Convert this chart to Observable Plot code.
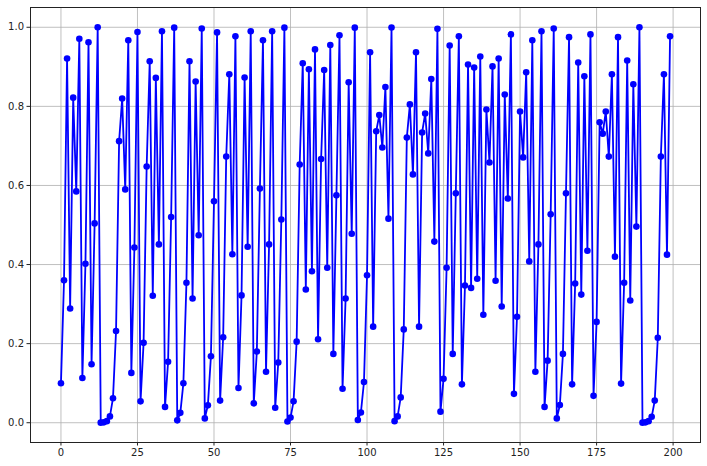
<!DOCTYPE html>
<html>
<head>
<meta charset="utf-8">
<script src="https://cdn.jsdelivr.net/npm/d3@7"></script>
<script src="https://cdn.jsdelivr.net/npm/@observablehq/plot@0.6"></script>
<style>
  html, body { margin: 0; padding: 0; background: white; }
</style>
</head>
<body>
<div id="chart"></div>
<script>
const values = [
  0.1, 0.36, 0.921, 0.289, 0.822, 0.585, 0.971, 0.113, 0.402, 0.962,
  0.148, 0.504, 0.9999, 0.0002, 0.001, 0.004, 0.016, 0.062, 0.232, 0.712,
  0.820, 0.590, 0.967, 0.126, 0.443, 0.988, 0.054, 0.202, 0.648, 0.914,
  0.321, 0.872, 0.451, 0.990, 0.040, 0.154, 0.520, 0.999, 0.006, 0.025,
  0.100, 0.354, 0.914, 0.314, 0.863, 0.474, 0.997, 0.011, 0.044, 0.168,
  0.560, 0.987, 0.056, 0.216, 0.673, 0.881, 0.426, 0.977, 0.088, 0.322,
  0.873, 0.445, 0.990, 0.049, 0.180, 0.592, 0.967, 0.129, 0.451, 0.990,
  0.038, 0.152, 0.514, 0.999, 0.003, 0.013, 0.054, 0.205, 0.653, 0.909,
  0.337, 0.894, 0.383, 0.944, 0.211, 0.667, 0.892, 0.392, 0.955, 0.174,
  0.575, 0.980, 0.086, 0.314, 0.861, 0.478, 0.999, 0.007, 0.026, 0.103,
  0.373, 0.937, 0.243, 0.737, 0.778, 0.696, 0.849, 0.516, 0.9995, 0.004,
  0.016, 0.064, 0.236, 0.721, 0.805, 0.628, 0.937, 0.243, 0.734, 0.782,
  0.681, 0.869, 0.458, 0.996, 0.028, 0.111, 0.392, 0.954, 0.174, 0.580,
  0.977, 0.097, 0.347, 0.906, 0.341, 0.898, 0.364, 0.926, 0.273, 0.792,
  0.658, 0.901, 0.359, 0.921, 0.294, 0.830, 0.567, 0.982, 0.073, 0.268,
  0.787, 0.671, 0.886, 0.408, 0.967, 0.129, 0.451, 0.990, 0.040, 0.157,
  0.527, 0.997, 0.011, 0.045, 0.174, 0.580, 0.975, 0.097, 0.352, 0.911,
  0.324, 0.876, 0.435, 0.982, 0.068, 0.255, 0.760, 0.731, 0.787, 0.673,
  0.881, 0.420, 0.975, 0.099, 0.354, 0.916, 0.309, 0.856, 0.496, 0.9999,
  0.0002, 0.001, 0.004, 0.015, 0.056, 0.215, 0.673, 0.881, 0.425, 0.977
];
const xTicks = [0, 25, 50, 75, 100, 125, 150, 175, 200];
const yTicks = [0.0, 0.2, 0.4, 0.6, 0.8, 1.0];

const data = values.map((v, i) => ({i, v}));

const chart = Plot.plot({
  width: 707,
  height: 466,
  marginLeft: 30,
  marginRight: 7,
  marginTop: 7,
  marginBottom: 24,
  style: {fontFamily: "DejaVu Sans", fontSize: "10px", background: "white", color: "#222"},
  x: {domain: [-9.95, 208.95], label: null},
  y: {domain: [-0.05, 1.05], label: null},
  marks: [
    Plot.gridX(xTicks, {stroke: "#b0b0b0", strokeOpacity: 1, strokeWidth: 0.8}),
    Plot.gridY(yTicks, {stroke: "#b0b0b0", strokeOpacity: 1, strokeWidth: 0.8}),
    Plot.axisX(xTicks, {tickSize: 3.5, tickPadding: 3, tickFormat: d => String(d), label: null, stroke: "#222"}),
    Plot.axisY(yTicks, {tickSize: 3.5, tickPadding: 3, tickFormat: d3.format(".1f"), label: null, stroke: "#222"}),
    Plot.line(data, {x: "i", y: "v", stroke: "#0000ff", strokeWidth: 1.8}),
    Plot.dot(data, {x: "i", y: "v", r: 3.3, fill: "#0000ff", stroke: "none"}),
    Plot.frame({stroke: "#222", strokeWidth: 1})
  ]
});
document.getElementById("chart").appendChild(chart);
</script>
</body>
</html>
